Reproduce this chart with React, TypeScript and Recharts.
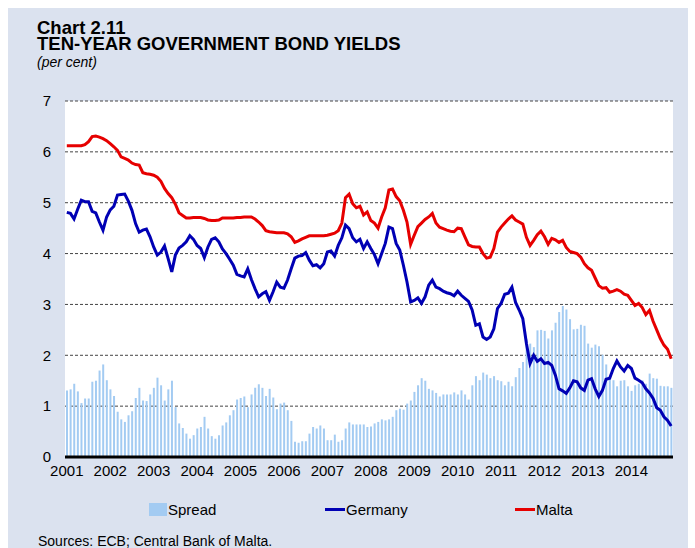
import { ComposedChart, Bar, Line, XAxis, YAxis, CartesianGrid } from 'recharts'

// monthly observations, Jan 2001 - Dec 2014
const years = ['2001', '2002', '2003', '2004', '2005', '2006', '2007', '2008', '2009', '2010', '2011', '2012', '2013', '2014']
const yTicks = [0, 1, 2, 3, 4, 5, 6, 7]

const malta = [
  6.12, 6.12, 6.12, 6.12, 6.12, 6.14, 6.2, 6.3, 6.31, 6.29, 6.26, 6.22,
  6.16, 6.1, 6.03, 5.9, 5.87, 5.84, 5.78, 5.75, 5.74, 5.59, 5.57, 5.56,
  5.54, 5.5, 5.42, 5.28, 5.18, 5.1, 4.97, 4.8, 4.75, 4.7, 4.7, 4.71,
  4.71, 4.71, 4.69, 4.66, 4.65, 4.65, 4.66, 4.7, 4.7, 4.7, 4.7, 4.71,
  4.71, 4.72, 4.72, 4.72, 4.68, 4.62, 4.55, 4.45, 4.43, 4.42, 4.41, 4.41,
  4.41, 4.39, 4.33, 4.22, 4.25, 4.29, 4.32, 4.35, 4.35, 4.35, 4.35, 4.35,
  4.36, 4.38, 4.4, 4.45, 4.6, 5.1, 5.17, 4.98, 4.9, 4.93, 4.76, 4.82,
  4.65, 4.6, 4.5, 4.72, 4.9, 5.25, 5.27, 5.12, 5.04, 4.85, 4.62, 4.18,
  4.36, 4.53, 4.6, 4.67, 4.72, 4.79, 4.6, 4.52, 4.49, 4.46, 4.44, 4.43,
  4.5, 4.49, 4.33, 4.17, 4.14, 4.13, 4.13, 4.0, 3.91, 3.93, 4.1, 4.42,
  4.52, 4.6, 4.68, 4.74, 4.66, 4.62, 4.58, 4.32, 4.16, 4.26, 4.37, 4.44,
  4.33, 4.18, 4.3, 4.27, 4.22, 4.26, 4.12, 4.04, 4.02, 4.0, 3.93, 3.8,
  3.72, 3.67, 3.52, 3.37, 3.32, 3.33, 3.24, 3.26, 3.29, 3.26, 3.2, 3.18,
  3.08, 2.98, 3.02, 2.94, 2.8, 2.88, 2.67, 2.5, 2.33, 2.2, 2.12, 1.93,
]

const germany = [
  4.81, 4.79, 4.68, 4.87, 5.05, 5.02, 5.02, 4.83, 4.8, 4.62, 4.46, 4.72,
  4.86, 4.93, 5.15, 5.16, 5.17, 5.03, 4.85, 4.59, 4.42, 4.46, 4.48, 4.33,
  4.13, 3.97, 4.03, 4.15, 3.9, 3.64, 3.97, 4.11, 4.16, 4.23, 4.35, 4.28,
  4.16, 4.1, 3.92, 4.13, 4.28, 4.31, 4.23, 4.09, 4.0, 3.89, 3.77, 3.59,
  3.56, 3.54, 3.7, 3.49, 3.31, 3.15, 3.21, 3.25, 3.08, 3.25, 3.44, 3.34,
  3.32, 3.48, 3.7, 3.91, 3.95, 3.96, 4.02, 3.87, 3.76, 3.78, 3.72, 3.8,
  4.03, 4.05, 3.95, 4.16, 4.31, 4.56, 4.49, 4.31, 4.23, 4.28, 4.1, 4.23,
  4.1, 3.98, 3.8, 4.0, 4.2, 4.52, 4.49, 4.2, 4.07, 3.77, 3.44, 3.05,
  3.08, 3.13, 3.02, 3.15, 3.38, 3.48, 3.34, 3.31, 3.26, 3.23, 3.21, 3.17,
  3.26, 3.18, 3.12, 3.06, 2.89, 2.59, 2.62, 2.36, 2.31, 2.36, 2.52, 2.92,
  3.02, 3.2, 3.22, 3.34, 3.04, 2.89, 2.72, 2.23, 1.84, 2.0, 1.88, 1.93,
  1.84, 1.86, 1.8, 1.61, 1.34, 1.3, 1.25, 1.36, 1.5, 1.48, 1.36, 1.31,
  1.51, 1.54, 1.34, 1.19, 1.31, 1.53, 1.55, 1.74, 1.89, 1.77, 1.69, 1.8,
  1.74, 1.55, 1.51, 1.46, 1.34, 1.26, 1.15, 0.97, 0.92, 0.79, 0.72, 0.61,
]

const spread = [
  1.31, 1.33, 1.44, 1.29, 1.06, 1.15, 1.15, 1.48, 1.5, 1.7, 1.82, 1.51,
  1.33, 1.2, 0.89, 0.74, 0.69, 0.82, 0.9, 1.16, 1.36, 1.11, 1.1, 1.23,
  1.36, 1.56, 1.41, 1.11, 1.33, 1.5, 0.98, 0.66, 0.57, 0.46, 0.36, 0.43,
  0.56, 0.59, 0.79, 0.56, 0.41, 0.36, 0.43, 0.62, 0.68, 0.82, 0.92, 1.13,
  1.16, 1.19, 0.98, 1.23, 1.36, 1.43, 1.36, 1.2, 1.34, 1.17, 0.94, 1.05,
  1.07, 0.92, 0.71, 0.3, 0.28, 0.31, 0.31, 0.46, 0.59, 0.56, 0.62, 0.56,
  0.33, 0.33, 0.44, 0.3, 0.33, 0.56, 0.68, 0.64, 0.64, 0.64, 0.64, 0.59,
  0.6, 0.66, 0.69, 0.74, 0.72, 0.74, 0.79, 0.92, 0.95, 0.93, 1.05, 1.11,
  1.28, 1.41, 1.55, 1.5, 1.34, 1.31, 1.26, 1.19, 1.23, 1.23, 1.23, 1.27,
  1.23, 1.31, 1.23, 1.13, 1.41, 1.59, 1.51, 1.66, 1.62, 1.55, 1.59, 1.51,
  1.49, 1.41, 1.48, 1.39, 1.57, 1.75, 1.87, 2.31, 2.23, 2.16, 2.49, 2.5,
  2.48, 2.33, 2.49, 2.64, 2.85, 2.97, 2.9, 2.71, 2.51, 2.52, 2.6, 2.58,
  2.23, 2.15, 2.21, 2.18, 2.01, 1.82, 1.55, 1.51, 1.39, 1.5, 1.51, 1.39,
  1.3, 1.41, 1.44, 1.51, 1.44, 1.64, 1.55, 1.54, 1.4, 1.39, 1.39, 1.36,
]

const SPREAD = '#a3cbf2'
const GERMANY = '#0000b4'
const MALTA = '#e60000'
const FONT = '"Liberation Sans", Arial, sans-serif'

const months = years.flatMap((y) => Array.from({ length: 12 }, (_, m) => `${y}-${m + 1}`))
const data = months.map((month, i) => ({
  month,
  spread: spread[i],
  germany: germany[i],
  malta: malta[i],
}))

const tick = { fontSize: 15, fill: '#000', fontFamily: FONT }

function LegendItem({ x, label, kind, color }: { x: number; label: string; kind: 'bar' | 'line'; color: string }) {
  return (
    <div style={{ position: 'absolute', left: x, top: 500, display: 'flex', alignItems: 'center', height: 18 }}>
      {kind === 'bar'
        ? <div style={{ width: 18, height: 13, background: color }} />
        : <div style={{ width: 20, height: 3, background: color }} />}
      <span style={{ marginLeft: 1, fontSize: 15 }}>{label}</span>
    </div>
  )
}

const titleStyle = { position: 'absolute' as const, left: 37, fontSize: 18.5, fontWeight: 'bold' as const, lineHeight: '16px', whiteSpace: 'nowrap' as const }

export default function App() {
  return (
    <div style={{ position: 'absolute', left: 0, top: 0, width: 695, height: 548, background: '#fff', fontFamily: FONT, color: '#000' }}>
      <div style={{ position: 'absolute', left: 8, top: 8, width: 680, height: 540, background: '#dbe2ef' }} />
      <div style={{ ...titleStyle, top: 20 }}>Chart 2.11</div>
      <div style={{ ...titleStyle, top: 36 }}>TEN-YEAR GOVERNMENT BOND YIELDS</div>
      <div style={{ position: 'absolute', left: 37, top: 54, fontSize: 14, fontStyle: 'italic' }}>(per cent)</div>

      <div style={{ position: 'absolute', left: 0, top: 0 }}>
        <ComposedChart width={695} height={548} data={data} margin={{ top: 101, right: 22, left: 35, bottom: 61 }}>
          <CartesianGrid vertical={false} fill="#ffffff" stroke="#444" strokeDasharray="3 2" />
          <XAxis
            dataKey="month"
            interval={11}
            tickFormatter={(v: string) => v.slice(0, 4)}
            tick={tick}
            tickLine={false}
            axisLine={{ stroke: '#000', strokeWidth: 3 }}
            height={30}
          />
          <YAxis
            domain={[0, 7]}
            ticks={yTicks}
            tick={tick}
            tickLine={false}
            axisLine={false}
            tickSize={0}
            tickMargin={14}
            width={30}
          />
          <Bar dataKey="spread" fill={SPREAD} barSize={2} isAnimationActive={false} />
          <Line dataKey="germany" stroke={GERMANY} strokeWidth={3} dot={false} type="linear" isAnimationActive={false} />
          <Line dataKey="malta" stroke={MALTA} strokeWidth={3} dot={false} type="linear" isAnimationActive={false} />
        </ComposedChart>
      </div>

      <LegendItem x={149} label="Spread" kind="bar" color={SPREAD} />
      <LegendItem x={325} label="Germany" kind="line" color={GERMANY} />
      <LegendItem x={515} label="Malta" kind="line" color={MALTA} />

      <div style={{ position: 'absolute', left: 38, top: 533, fontSize: 14 }}>Sources: ECB; Central Bank of Malta.</div>
    </div>
  )
}
